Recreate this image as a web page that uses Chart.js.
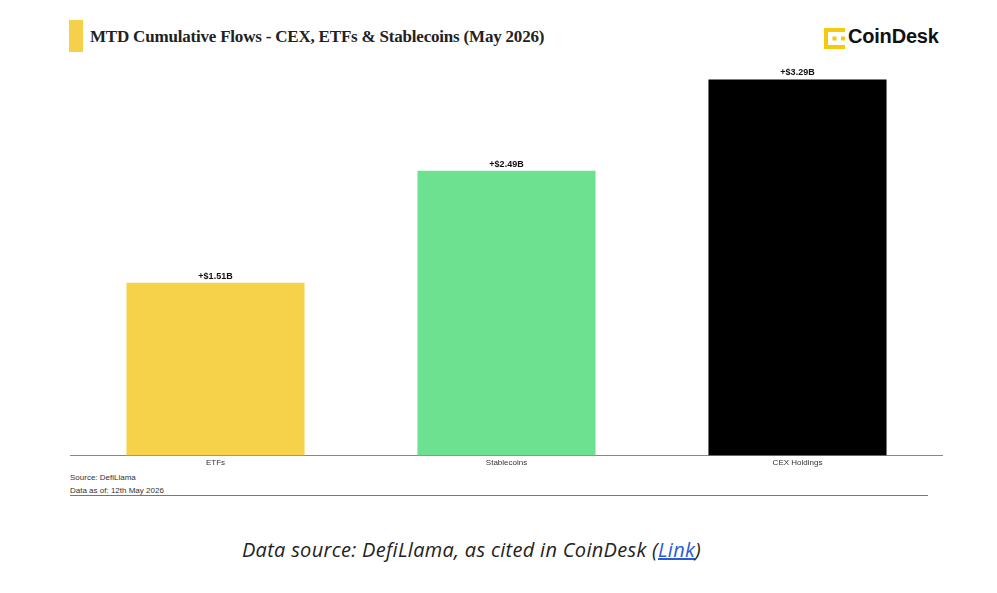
<!DOCTYPE html>
<html>
<head>
<meta charset="utf-8">
<script src="https://cdn.jsdelivr.net/npm/chart.js@4/dist/chart.umd.min.js"></script>
<style>
  html, body { margin: 0; padding: 0; background: #fff; }
  body { width: 997px; height: 593px; position: relative; overflow: hidden; font-family: "Liberation Sans", Arial, sans-serif; }
  #mark { position: absolute; left: 69px; top: 20px; width: 14px; height: 32px; background: #F6D04A; }
  #title { position: absolute; left: 90px; top: 27px; font-family: "Liberation Serif", serif; font-weight: bold; font-size: 17px; color: #222; letter-spacing: -0.2px; white-space: nowrap; }
  #logo { position: absolute; left: 824px; top: 26px; height: 24px; white-space: nowrap; }
  #logo .icon { position: absolute; left: 0; top: 2px; width: 21px; height: 21px; }
  #logo .name { position: absolute; left: 24px; top: -1px; font-family: "Liberation Sans", Arial, sans-serif; font-weight: bold; font-size: 20px; color: #111; letter-spacing: -0.2px; }
  #wrap { position: absolute; left: 70px; top: 60px; width: 873px; height: 411px; }
  .src { position: absolute; left: 70px; font-size: 8px; color: #333; white-space: nowrap; }
  #rule { position: absolute; left: 70px; top: 495px; width: 858px; height: 1px; background: #777; }
  #caption { position: absolute; left: 0; width: 943px; top: 536px; text-align: center; font-family: "Open Sans", "Noto Sans", sans-serif; font-style: italic; font-size: 20px; letter-spacing: 0.3px; color: #222; white-space: nowrap; }
  #caption a { color: #2a5bd7; text-decoration: underline; }
</style>
</head>
<body>
<div id="mark"></div>
<div id="title">MTD Cumulative Flows - CEX, ETFs &amp; Stablecoins (May 2026)</div>
<div id="logo">
  <svg class="icon" viewBox="0 0 21 21">
    <g fill="#F6C90E">
      <rect x="0" y="0" width="4" height="21"/>
      <rect x="0" y="0" width="21" height="4"/>
      <rect x="0" y="17" width="21" height="4"/>
      <rect x="8.5" y="8.5" width="4" height="4"/>
      <rect x="17" y="8.5" width="4" height="4"/>
    </g>
  </svg>
  <span class="name">CoinDesk</span>
</div>
<div id="wrap"><canvas id="chart"></canvas></div>
<div class="src" style="top:473px">Source: DefiLlama</div>
<div class="src" style="top:486px">Data as of: 12th May 2026</div>
<div id="rule"></div>
<div id="caption">Data source: DefiLlama, as cited in CoinDesk (<a href="#">Link</a>)</div>

<script>
var categories = ["ETFs", "Stablecoins", "CEX Holdings"];
var flows = [1.51, 2.49, 3.29];
var barColors = ["#F6D24A", "#6EE191", "#000000"];

var valueLabels = {
  id: 'valueLabels',
  afterDatasetsDraw: function(chart) {
    var ctx = chart.ctx;
    var meta = chart.getDatasetMeta(0);
    ctx.save();
    ctx.font = "bold 9px 'Liberation Sans', Arial, sans-serif";
    ctx.fillStyle = "#111";
    ctx.textAlign = "center";
    ctx.textBaseline = "bottom";
    meta.data.forEach(function(bar, i) {
      ctx.fillText("+$" + flows[i].toFixed(2) + "B", bar.x, bar.y - 2);
    });
    ctx.restore();
  }
};

var ctx = document.getElementById("chart").getContext('2d');
var myBarChart = new Chart(ctx, {
  type: 'bar',
  data: {
    labels: categories,
    datasets: [{
      data: flows,
      backgroundColor: barColors,
      borderWidth: 0,
      categoryPercentage: 1,
      barPercentage: 0.612
    }]
  },
  options: {
    responsive: true,
    maintainAspectRatio: false,
    animation: false,
    layout: { padding: 0 },
    plugins: {
      legend: { display: false },
      tooltip: { enabled: false }
    },
    scales: {
      x: {
        grid: { display: false, drawTicks: false },
        border: { display: true, color: "#888", width: 1 },
        ticks: { color: "#333", font: { size: 8, family: "'Liberation Sans', Arial, sans-serif" }, padding: 3 }
      },
      y: {
        display: false,
        min: 0,
        max: 3.46
      }
    }
  },
  plugins: [valueLabels]
});
</script>
</body>
</html>
